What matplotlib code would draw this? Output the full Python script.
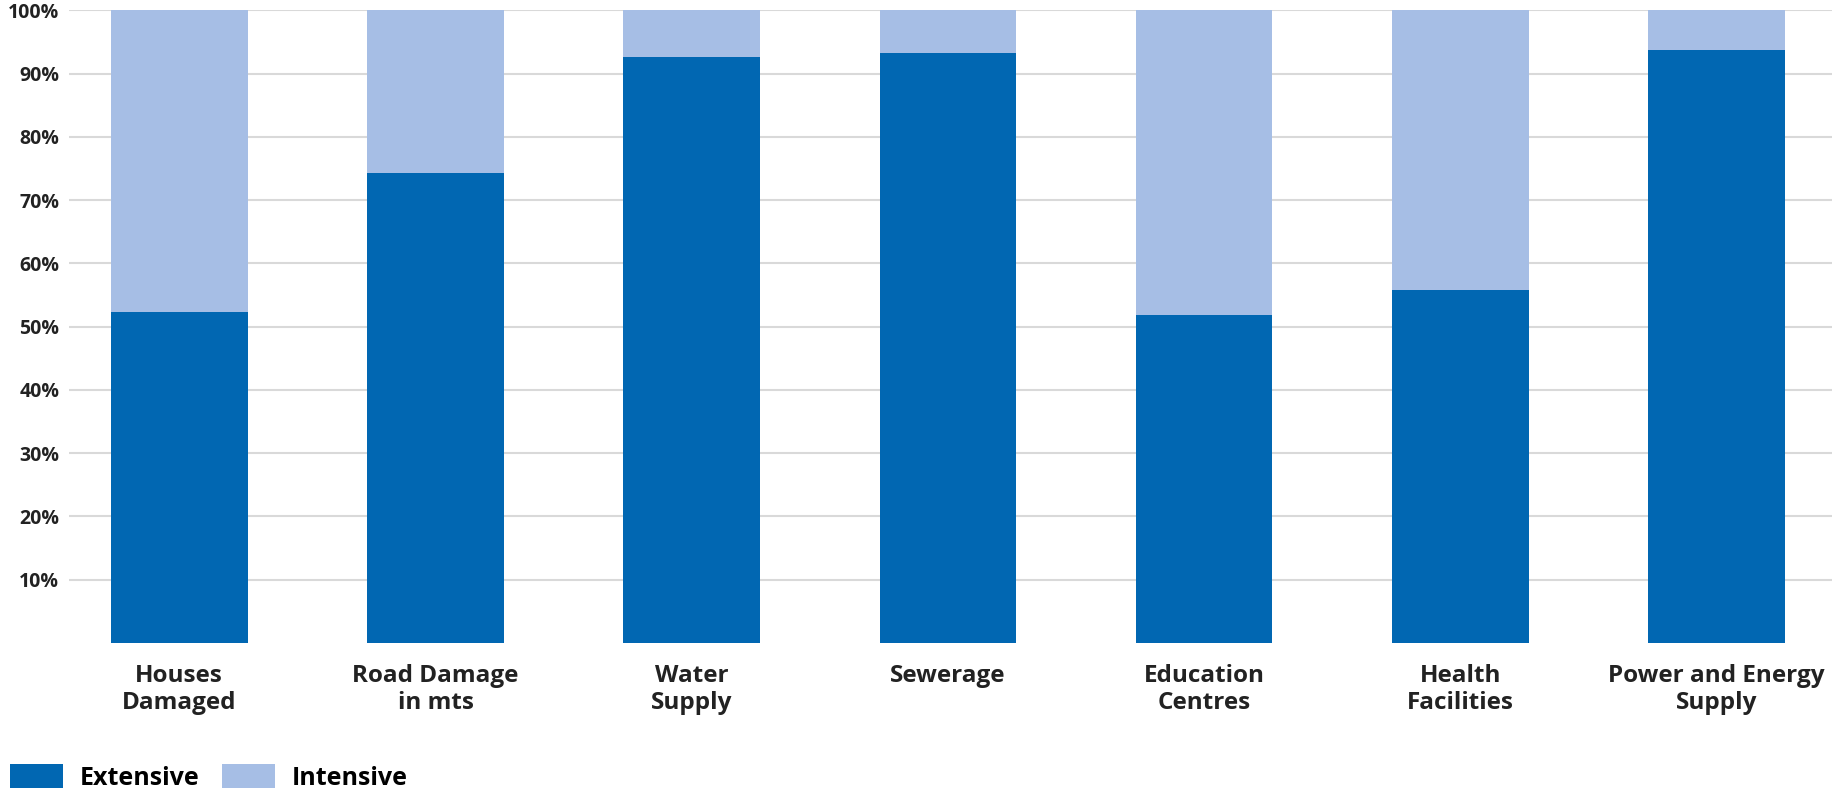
import matplotlib.pyplot as plt
import numpy as np

categories = ["Houses\nDamaged", "Road Damage\nin mts", "Water\nSupply", "Sewerage",
              "Education\nCentres", "Health\nFacilities", "Power and Energy\nSupply"]
extensive = [52.3, 74.3, 92.6, 93.3, 51.8, 55.8, 93.7]
intensive = [100 - v for v in extensive]
yticks = [10, 20, 30, 40, 50, 60, 70, 80, 90, 100]

dark = "#0167B2"
light = "#A6BEE5"

plt.rcParams["font.family"] = ["Open Sans", "DejaVu Sans"]

fig = plt.figure(figsize=(18.32, 7.88), dpi=100)
ax = fig.add_axes([0.0377, 0.184, 0.9623, 0.803])

x = np.arange(len(categories))
ax.bar(x, extensive, width=0.533, color=dark, label="Extensive", zorder=3)
ax.bar(x, intensive, width=0.533, bottom=extensive, color=light, label="Intensive", zorder=3)

ax.set_xlim(-0.43, 6.45)
ax.set_ylim(0, 100)
ax.set_yticks(yticks)
ax.set_yticklabels([f"{t}%" for t in yticks], fontsize=14, fontweight="bold", color="#222222")
ax.set_xticks(x)
ax.set_xticklabels(categories, fontsize=17.5, fontweight="bold", color="#222222", linespacing=1.15)
ax.tick_params(axis="y", length=0, pad=7)
ax.tick_params(axis="x", length=0, pad=15)
ax.grid(axis="y", color="#d9d9d9", linewidth=1.5, zorder=0)
for s in ax.spines.values():
    s.set_visible(False)

fig.legend(loc="lower left", bbox_to_anchor=(0.0, -0.016), ncol=2, frameon=False,
           handlelength=2.1, handleheight=1.1, handletextpad=0.7,
           columnspacing=0.9, borderaxespad=0.0,
           prop={"size": 18, "weight": "bold"})

fig.savefig("out.png", dpi=100)
